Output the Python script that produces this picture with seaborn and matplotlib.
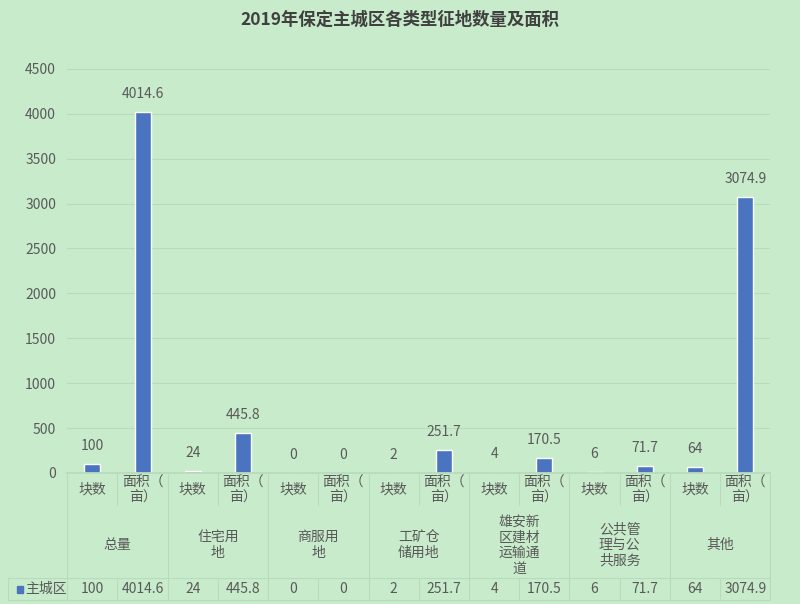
import matplotlib
matplotlib.use("Agg")
import matplotlib.pyplot as plt
import matplotlib.transforms as mtransforms
import seaborn as sns
import pandas as pd

groups = ["总量", "住宅用\n地", "商服用\n地", "工矿仓\n储用地", "雄安新\n区建材\n运输通\n道", "公共管\n理与公\n共服务", "其他"]
sub_labels = ["块数", "面积（\n亩）"]
series_name = "主城区"
values = [100, 4014.6, 24, 445.8, 0, 0, 2, 251.7, 4, 170.5, 6, 71.7, 64, 3074.9]
value_text = ["100", "4014.6", "24", "445.8", "0", "0", "2", "251.7", "4", "170.5", "6", "71.7", "64", "3074.9"]

bg = "#c8eccb"
bar_color = "#4a74c0"
text_color = "#595959"
grid_color = "#b8dcbb"

sns.set_theme(style="white")
plt.rcParams["font.family"] = ["Noto Sans CJK SC", "DejaVu Sans"]

keys = [f"{g}|{s}" for g in groups for s in sub_labels]
df = pd.DataFrame({"key": keys, "value": values})

fig = plt.figure(figsize=(8.0, 6.04), dpi=100, facecolor=bg)
ax = fig.add_axes([0.084, 0.217, 0.879, 0.669])
ax.set_facecolor(bg)

sns.barplot(data=df, x="key", y="value", order=keys, color=bar_color,
            width=0.32, saturation=1, ax=ax, errorbar=None)

fs = 10
ax.set_ylim(0, 4500)
ax.set_xlim(-0.5, len(keys) - 0.5)
ax.set_yticks(range(0, 4501, 500))
ax.tick_params(axis="y", labelsize=fs, colors=text_color, length=0, pad=8)
ax.set_xticks([])
ax.set_xlabel("")
ax.set_ylabel("")
ax.yaxis.grid(True, color=grid_color, linewidth=0.8)
ax.set_axisbelow(True)
for s in ["top", "right", "left"]:
    ax.spines[s].set_visible(False)
ax.spines["bottom"].set_color(grid_color)

ax.bar_label(ax.containers[0], labels=value_text, padding=8, fontsize=fs, color=text_color)

fig.suptitle("2019年保定主城区各类型征地数量及面积", x=0.5, y=0.982,
             fontsize=12.5, fontweight="bold", color="#404040")

# data table beneath the axes
trans = mtransforms.blended_transform_factory(ax.transData, fig.transFigure)
def fy(px):
    return 1 - px / 604

n = len(keys)
line_kw = dict(color=grid_color, linewidth=0.8, transform=trans, clip_on=False)
for i in range(n + 1):
    x = i - 0.5
    if i % 2 == 0:
        ax.plot([x, x], [fy(473), fy(600)], **line_kw)
    else:
        ax.plot([x, x], [fy(473), fy(505)], **line_kw)
        ax.plot([x, x], [fy(578), fy(600)], **line_kw)
ax.plot([-0.5, n - 0.5], [fy(578), fy(578)], **line_kw)
ax.plot([-0.5, n - 0.5], [fy(600), fy(600)], **line_kw)
fig.add_artist(plt.Line2D([0.01, 0.084], [fy(578), fy(578)], color=grid_color, linewidth=0.8))
fig.add_artist(plt.Line2D([0.01, 0.084], [fy(600), fy(600)], color=grid_color, linewidth=0.8))
fig.add_artist(plt.Line2D([0.01, 0.01], [fy(578), fy(600)], color=grid_color, linewidth=0.8))

for i, k in enumerate(keys):
    sub = sub_labels[i % 2]
    ax.text(i, fy(490), sub, transform=trans, ha="center", va="center",
            fontsize=fs, color=text_color, linespacing=1.1)
    ax.text(i, fy(589), value_text[i], transform=trans, ha="center", va="center",
            fontsize=fs, color=text_color)
for j, g in enumerate(groups):
    ax.text(2 * j + 0.5, fy(545), g, transform=trans, ha="center", va="center",
            fontsize=fs, color=text_color, linespacing=1.15)

# legend key
fig.patches.append(plt.Rectangle((0.021, fy(593)), 0.008, 0.011, transform=fig.transFigure,
                                 color=bar_color))
fig.text(0.031, fy(589), series_name, ha="left", va="center", fontsize=fs, color=text_color)

fig.savefig("out.png", dpi=100, facecolor=bg)
